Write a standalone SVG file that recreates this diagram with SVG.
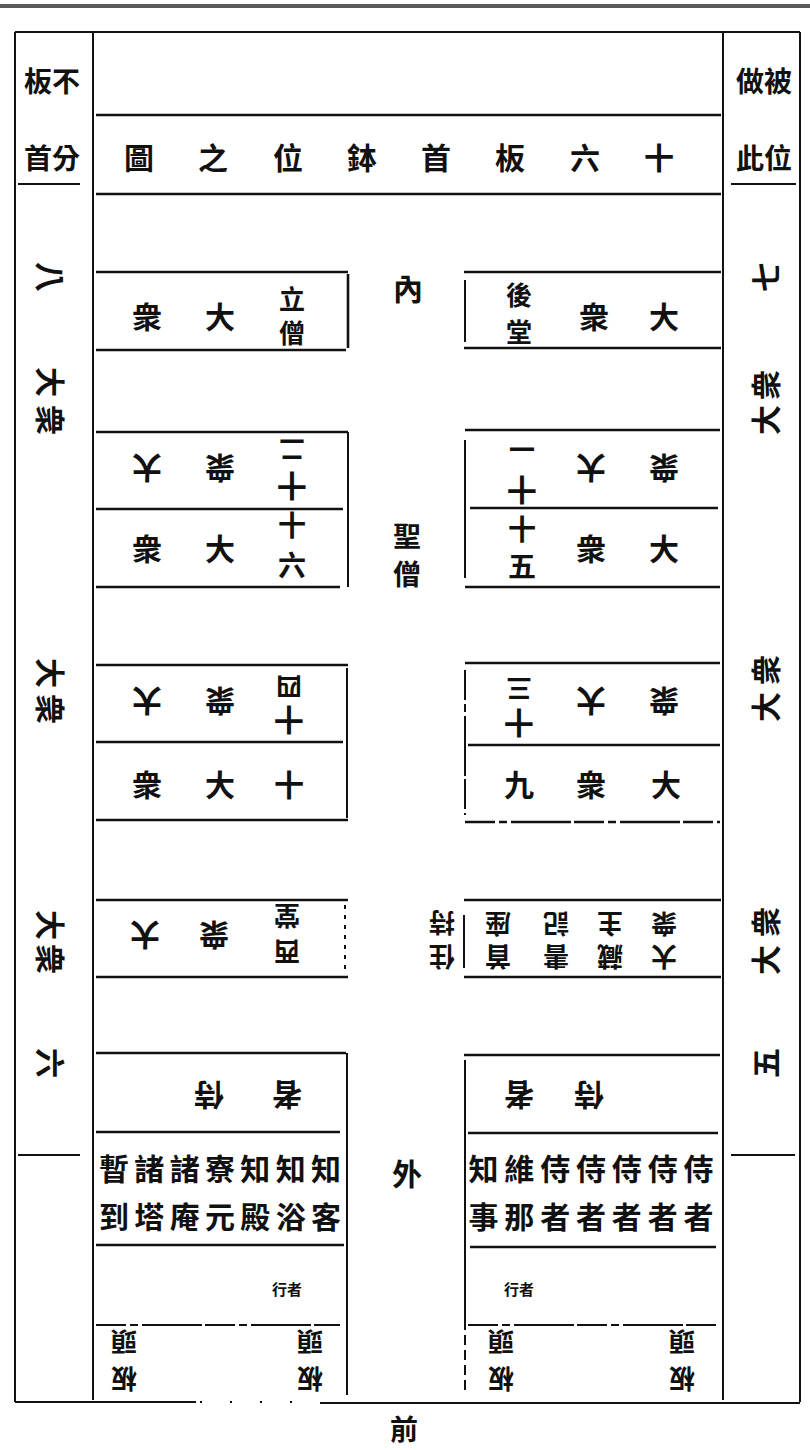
<svg xmlns="http://www.w3.org/2000/svg" width="810" height="1450" viewBox="0 0 810 1450">
<style>
.t{font-family:"Noto Sans CJK TC","Noto Sans CJK SC",sans-serif;font-weight:700;fill:#111;text-anchor:middle;dominant-baseline:central;font-size:30px}
.s{font-size:26px}
.m{font-size:28px}
.xs{font-size:15px}
.ln{stroke:#111;stroke-width:2;fill:none}
.th{stroke-width:2.6}
.d{stroke-dasharray:30 4 8 4 60 3}
</style>
<rect x="0" y="4" width="810" height="4" fill="#5a5a5a"/>
<g id="frame" class="ln">
<path d="M15 32H800M15 32V1402M93 32V1400M723 32V1400M800 32V1402M15 1402H196M320 1403H800"/>
<path stroke-dasharray="2 28" d="M200 1402H318"/>
<path class="th" d="M96 115H721M96 194H721"/>
<path d="M18 184H80M731 184H796M18 1155H80M731 1155H795"/>
</g>
<g id="left-col" class="t">
<text x="52" y="80" class="m">板不</text>
<text x="52" y="157" class="m">首分</text>
<text x="52" y="277" transform="rotate(90 52 277)">八</text>
<text x="52" y="382" transform="rotate(90 52 382)">大</text>
<text x="52" y="420" transform="rotate(90 52 420)">衆</text>
<text x="52" y="673" transform="rotate(90 52 673)">大</text>
<text x="52" y="709" transform="rotate(90 52 709)">衆</text>
<text x="52" y="925" transform="rotate(90 52 925)">大</text>
<text x="52" y="959" transform="rotate(90 52 959)">衆</text>
<text x="52" y="1063" transform="rotate(90 52 1063)">六</text>
</g>
<g id="right-col" class="t">
<text x="764" y="80" class="m">做被</text>
<text x="764" y="157" class="m">此位</text>
<text x="764" y="277" transform="rotate(-90 764 277)">七</text>
<text x="764" y="385" transform="rotate(-90 764 385)">衆</text>
<text x="764" y="420" transform="rotate(-90 764 420)">大</text>
<text x="764" y="670" transform="rotate(-90 764 670)">衆</text>
<text x="764" y="707" transform="rotate(-90 764 707)">大</text>
<text x="764" y="922" transform="rotate(-90 764 922)">衆</text>
<text x="764" y="960" transform="rotate(-90 764 960)">大</text>
<text x="764" y="1063" transform="rotate(-90 764 1063)">五</text>
</g>
<g id="title" class="t">
<text x="139" y="156">圖</text><text x="213" y="156">之</text><text x="288" y="156">位</text><text x="362" y="156">鉢</text>
<text x="436" y="156">首</text><text x="510" y="156">板</text><text x="585" y="156">六</text><text x="659" y="156">十</text>
</g>
<g id="center" class="t">
<text x="408" y="287">內</text>
<text x="407" y="535" class="m">聖</text>
<text x="407" y="573" class="m">僧</text>
<text x="407" y="1172">外</text>
<text x="404" y="1428" class="m">前</text>
</g>
<g id="box-lixeng">
<path class="ln th" d="M96 272H348M96 350H346M348 274V348"/>
<g class="t"><text x="147" y="315">衆</text><text x="220" y="315">大</text><text x="292" y="297" class="s">立</text><text x="292" y="331" class="s">僧</text></g>
</g>
<g id="box-houtang">
<path class="ln th" d="M464 272H721M464 348H721"/><path class="ln" d="M465 280V342"/>
<g class="t"><text x="519" y="293" class="s">後</text><text x="519" y="330" class="s">堂</text><text x="594" y="315">衆</text><text x="664" y="315">大</text></g>
</g>
<g id="box-12">
<path class="ln th" d="M96 432H348M96 509H343"/><path class="ln" d="M348 432V587"/>
<g class="t">
<text x="147" y="470" transform="rotate(180 147 470)">大</text>
<text x="220" y="470" transform="rotate(180 220 470)">衆</text>
<text x="292" y="451" class="s" transform="rotate(180 292 451)">二</text>
<text x="292" y="488" transform="rotate(180 292 488)">十</text>
</g>
</g>
<g id="box-16">
<path class="ln th" d="M96 587H340"/>
<g class="t"><text x="147" y="547">衆</text><text x="220" y="547">大</text><text x="292" y="524" class="m">十</text><text x="292" y="564" class="m">六</text></g>
</g>
<g id="box-11">
<path class="ln th" d="M465 430H720M470 508H718"/><path class="ln" d="M465 440V578"/>
<g class="t">
<text x="522" y="450" class="s" transform="rotate(180 522 450)">一</text>
<text x="522" y="492" transform="rotate(180 522 492)">十</text>
<text x="591" y="470" transform="rotate(180 591 470)">大</text>
<text x="664" y="470" transform="rotate(180 664 470)">衆</text>
</g>
</g>
<g id="box-15">
<path class="ln th" d="M465 587H720"/>
<g class="t"><text x="522" y="528" class="m">十</text><text x="522" y="565" class="m">五</text><text x="591" y="547">衆</text><text x="664" y="547">大</text></g>
</g>
<g id="box-14">
<path class="ln th" d="M96 665H348M96 742H343"/><path class="ln" d="M347 668V818"/>
<g class="t">
<text x="147" y="703" transform="rotate(180 147 703)">大</text>
<text x="220" y="703" transform="rotate(180 220 703)">衆</text>
<text x="289" y="688" class="s" transform="rotate(180 289 688)">四</text>
<text x="289" y="722" transform="rotate(180 289 722)">十</text>
</g>
</g>
<g id="box-10">
<path class="ln th" d="M96 820H348"/>
<g class="t"><text x="147" y="783">衆</text><text x="220" y="783">大</text><text x="289" y="783">十</text></g>
</g>
<g id="box-13">
<path class="ln th" d="M465 663H720M468 745H720"/><path class="ln d" d="M465 670V815"/>
<g class="t">
<text x="519" y="690" class="s" transform="rotate(180 519 690)">三</text>
<text x="519" y="725" transform="rotate(180 519 725)">十</text>
<text x="591" y="703" transform="rotate(180 591 703)">大</text>
<text x="664" y="703" transform="rotate(180 664 703)">衆</text>
</g>
</g>
<g id="box-9">
<path class="ln th d" d="M465 822H720"/>
<g class="t"><text x="519" y="783">九</text><text x="591" y="783">衆</text><text x="666" y="783">大</text></g>
</g>
<g id="box-xitang">
<path class="ln th" d="M96 900H348M96 977H348"/><path class="ln" stroke-dasharray="4 6" d="M345 905V972"/>
<g class="t">
<text x="145" y="937" transform="rotate(180 145 937)">大</text>
<text x="214" y="937" transform="rotate(180 214 937)">衆</text>
<text x="287" y="917" class="s" transform="rotate(180 287 917)">堂</text>
<text x="287" y="953" class="s" transform="rotate(180 287 953)">西</text>
</g>
</g>
<g id="zhuchi" class="t">
<text x="442" y="924" class="s" transform="rotate(180 442 924)">持</text>
<text x="442" y="958" class="s" transform="rotate(180 442 958)">住</text>
</g>
<g id="box-shouzuo">
<path class="ln th" d="M464 900H721M464 977H721"/><path class="ln" d="M464 915V968"/>
<g class="t s">
<text x="498" y="925" transform="rotate(180 498 925)">座</text>
<text x="498" y="958" transform="rotate(180 498 958)">首</text>
<text x="556" y="925" transform="rotate(180 556 925)">記</text>
<text x="556" y="958" transform="rotate(180 556 958)">書</text>
<text x="610" y="925" transform="rotate(180 610 925)">主</text>
<text x="610" y="958" transform="rotate(180 610 958)">藏</text>
<text x="664" y="925" transform="rotate(180 664 925)">衆</text>
<text x="664" y="958" transform="rotate(180 664 958)">大</text>
</g>
</g>
<g id="box-left-front">
<path class="ln th" d="M96 1053H346M96 1132H340M96 1245H344"/><path class="ln" d="M347 1053V1395"/><path class="ln d" d="M96 1325H340"/>
<g class="t">
<text x="209" y="1097" transform="rotate(180 209 1097)">侍</text>
<text x="287" y="1097" transform="rotate(180 287 1097)">者</text>
<text x="220" y="1167" textLength="242" lengthAdjust="spacing">暫諸諸寮知知知</text>
<text x="220" y="1215" textLength="242" lengthAdjust="spacing">到塔庵元殿浴客</text>
<text x="287" y="1288" class="xs">行者</text>
<text x="124" y="1343" class="s" transform="rotate(180 124 1343)">頭</text>
<text x="124" y="1380" class="s" transform="rotate(180 124 1380)">板</text>
<text x="310" y="1343" class="s" transform="rotate(180 310 1343)">頭</text>
<text x="310" y="1380" class="s" transform="rotate(180 310 1380)">板</text>
</g>
</g>
<g id="box-right-front">
<path class="ln th" d="M464 1055H720M468 1133H718M470 1247H716"/><path class="ln" d="M465 1060V1320"/><path class="ln" stroke-dasharray="10 5" d="M465 1320V1395"/><path class="ln d" d="M468 1325H716"/>
<g class="t">
<text x="519" y="1097" transform="rotate(180 519 1097)">者</text>
<text x="589" y="1097" transform="rotate(180 589 1097)">侍</text>
<text x="591" y="1167" textLength="245" lengthAdjust="spacing">知維侍侍侍侍侍</text>
<text x="591" y="1215" textLength="245" lengthAdjust="spacing">事那者者者者者</text>
<text x="519" y="1288" class="xs">行者</text>
<text x="501" y="1343" class="s" transform="rotate(180 501 1343)">頭</text>
<text x="501" y="1380" class="s" transform="rotate(180 501 1380)">板</text>
<text x="682" y="1343" class="s" transform="rotate(180 682 1343)">頭</text>
<text x="682" y="1380" class="s" transform="rotate(180 682 1380)">板</text>
</g>
</g>
</svg>
